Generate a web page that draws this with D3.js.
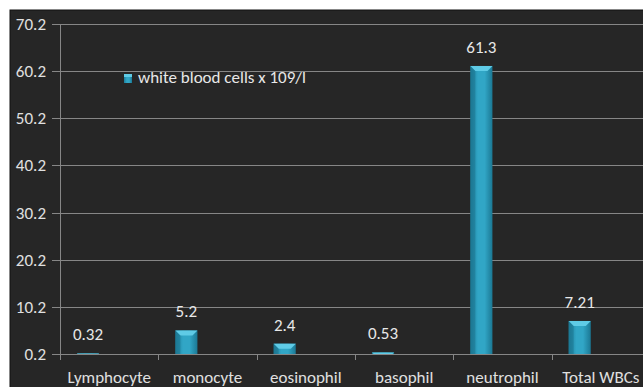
<!DOCTYPE html>
<html><head><meta charset="utf-8">
<script src="https://cdn.jsdelivr.net/npm/d3@7"></script>
<style>html,body{margin:0;padding:0;background:#fff;}svg{display:block;}</style>
</head><body>
<svg id="c" width="643" height="387"></svg>
<script>
const categories = ["Lymphocyte","monocyte","eosinophil","basophil","neutrophil","Total WBCs"];
const values = [0.32, 5.2, 2.4, 0.53, 61.3, 7.21];
const valueLabels = ["0.32","5.2","2.4","0.53","61.3","7.21"];
const yTicks = [0.2, 10.2, 20.2, 30.2, 40.2, 50.2, 60.2, 70.2];
const seriesName = "white blood cells x 109/l";

const FONT = "Carlito, Lato, 'Open Sans', sans-serif";
const FS = "17px";
const svg = d3.select("#c");
const defs = svg.append("defs");
const g1 = defs.append("linearGradient").attr("id","barg").attr("x1","0").attr("x2","1").attr("y1","0").attr("y2","0");
g1.append("stop").attr("offset","0").attr("stop-color","#1d7e9b");
g1.append("stop").attr("offset","0.35").attr("stop-color","#31a6c6");
g1.append("stop").attr("offset","0.65").attr("stop-color","#31a6c6");
g1.append("stop").attr("offset","1").attr("stop-color","#1b7894");

svg.append("rect").attr("x",10).attr("y",10).attr("width",640).attr("height",380)
  .attr("fill","#262626").attr("stroke","#111").attr("stroke-width",1);

const x = d3.scaleBand().domain(categories).range([60, 650]).padding(0);
const y = d3.scaleLinear().domain([0.2, 70.2]).range([354, 24]);
const bw = x.bandwidth();
const barW = bw * 0.225;
const barC = c => x(c) + bw * 0.285;

// y axis ticks
const yAxis = d3.axisLeft(y).tickValues(yTicks).tickFormat(d3.format(".1f")).tickSize(8).tickPadding(6);
const ga = svg.append("g").attr("transform","translate(60,0)").call(yAxis);
ga.select(".domain").remove();
ga.selectAll(".tick line").attr("stroke","#868686");
ga.selectAll(".tick text").attr("fill","#e0e0e0").attr("font-family",FONT).attr("font-size",FS);
ga.selectAll(".tick").attr("transform",d=>`translate(0,${Math.round(y(d))+0.5})`);
// gridlines
svg.append("g").selectAll("line").data(yTicks).join("line")
  .attr("x1",60).attr("x2",650).attr("y1",d=>Math.round(y(d))+0.5).attr("y2",d=>Math.round(y(d))+0.5)
  .attr("stroke","#868686").attr("stroke-width",1);
// y axis line
svg.append("line").attr("x1",60.5).attr("x2",60.5).attr("y1",24).attr("y2",360).attr("stroke","#868686");

// x axis
const xAxis = d3.axisBottom(x).tickSize(0).tickPadding(16);
const gx = svg.append("g").attr("transform",`translate(0,${Math.round(y(0.2))+0.5})`).call(xAxis);
gx.select(".domain").remove();
gx.selectAll(".tick text").attr("fill","#e0e0e0").attr("font-family",FONT).attr("font-size",FS);
svg.append("g").selectAll("line").data(categories.slice(1)).join("line")
  .attr("x1",d=>Math.round(x(d))+0.5).attr("x2",d=>Math.round(x(d))+0.5)
  .attr("y1",354).attr("y2",360).attr("stroke","#868686");

// bars
const bars = svg.append("g");
categories.forEach((c,i)=>{
  const v = values[i];
  const x0 = barC(c) - barW/2, yt = y(v), yb = y(0.2);
  const h = yb - yt;
  bars.append("rect").attr("x",x0).attr("y",yt).attr("width",barW).attr("height",h).attr("fill","url(#barg)");
  const bev = Math.min(5, h);
  bars.append("path")
    .attr("d",`M${x0},${yt} L${x0+barW},${yt} L${x0+barW-bev},${yt+bev} L${x0+bev},${yt+bev} Z`)
    .attr("fill","#5fcbe6");
  bars.append("path")
    .attr("d",`M${x0},${yt} L${x0+bev},${yt+bev} L${x0+bev},${yb} L${x0},${yb} Z`).attr("fill","#1a7089").attr("opacity",0.5);
  svg.append("text").attr("x",barC(c)).attr("y",yt-13).attr("text-anchor","middle")
    .attr("fill","#e8e8e8").attr("font-family",FONT).attr("font-size",FS).text(valueLabels[i]);
});

// legend
const lg = svg.append("g").attr("transform","translate(124,74)");
lg.append("rect").attr("width",8).attr("height",9).attr("fill","url(#barg)");
lg.append("rect").attr("width",8).attr("height",3).attr("fill","#5fcbe6");
lg.append("text").attr("x",14).attr("y",9).attr("fill","#e8e8e8").attr("font-family",FONT).attr("font-size",FS).text(seriesName);
</script>
</body></html>
